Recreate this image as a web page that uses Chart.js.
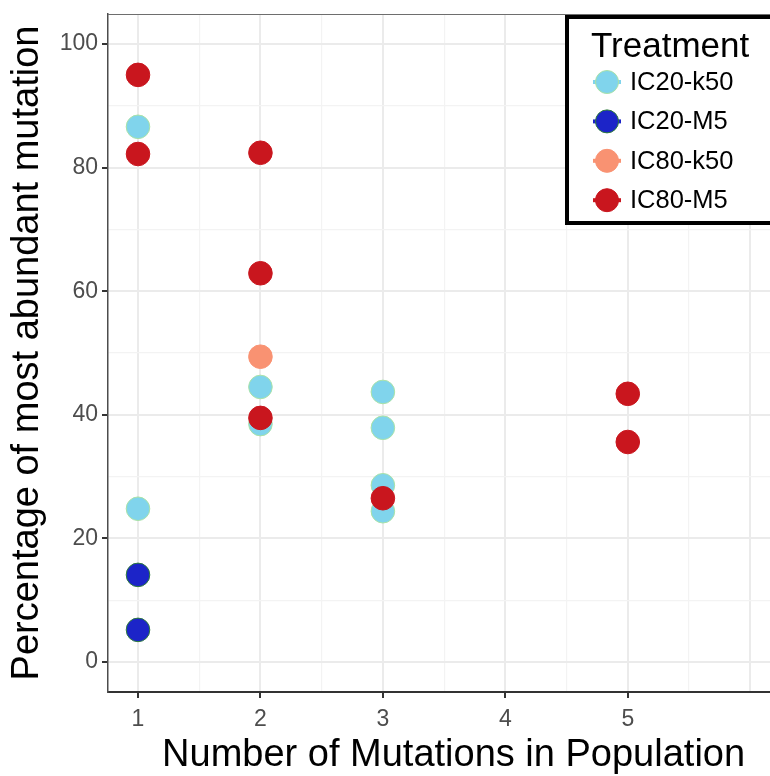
<!DOCTYPE html>
<html><head><meta charset="utf-8">
<script src="https://cdn.jsdelivr.net/npm/chart.js@4.4.0/dist/chart.umd.min.js"></script>
<style>
html,body{margin:0;padding:0;background:#fff;overflow:hidden;width:770px;height:776px}
#wrap{position:relative;width:812px;height:776px}
</style></head>
<body><div id="wrap"><canvas id="c" width="812" height="776"></canvas></div>
<script>
const seriesNames = ['IC20-k50', 'IC20-M5', 'IC80-k50', 'IC80-M5'];
const ic20k50X = [1, 1, 2, 2, 3, 3, 3, 3];
const ic20k50Y = [86.6, 24.8, 44.5, 38.5, 43.7, 37.9, 28.6, 24.4];
const ic20m5X = [1, 1];
const ic20m5Y = [14.1, 5.2];
const ic80k50X = [2];
const ic80k50Y = [49.4];
const ic80m5X = [1, 1, 2, 2, 2, 3, 5, 5];
const ic80m5Y = [95.0, 82.2, 82.4, 62.9, 39.5, 26.5, 43.4, 35.6];
const yTickValues = [0, 20, 40, 60, 80, 100];
const xTickLabels = [1, 2, 3, 4, 5];
const xGridValues = [1, 2, 3, 4, 5, 6];

const fills = ['#80D4EC', '#1C24C8', '#F99272', '#C9161E'];
const edges = ['#A9E2A6', '#2E7D3A', '#F99272', '#C9161E'];
const FONT = '"Liberation Sans", Arial, sans-serif';

function pts(xs, ys) { return xs.map((x, i) => ({x: x, y: ys[i]})); }
const seriesData = [pts(ic20k50X, ic20k50Y), pts(ic20m5X, ic20m5Y), pts(ic80k50X, ic80k50Y), pts(ic80m5X, ic80m5Y)];

function withMinor(major) {
  const out = [];
  for (let i = 0; i < major.length; i++) {
    out.push(major[i]);
    if (i < major.length - 1) out.push((major[i] + major[i + 1]) / 2);
  }
  return out;
}
const isMajor = (v, arr) => arr.some(a => Math.abs(a - v) < 1e-9);

const frame = {
  id: 'frame',
  afterDraw(chart) {
    const {ctx, chartArea: a} = chart;
    ctx.save();
    ctx.strokeStyle = '#6e6e6e';
    ctx.lineWidth = 1.2;
    ctx.beginPath(); ctx.moveTo(a.left, a.top + 0.5); ctx.lineTo(a.right, a.top + 0.5); ctx.stroke();
    // legend
    const lx = 567, ly = 17, lw = 240, lh = 206;
    ctx.fillStyle = '#fff'; ctx.fillRect(lx, ly, lw, lh);
    ctx.lineWidth = 4; ctx.strokeStyle = '#000'; ctx.strokeRect(lx, ly, lw, lh);
    ctx.fillStyle = '#000'; ctx.font = '35px ' + FONT; ctx.textBaseline = 'alphabetic';
    ctx.fillText('Treatment', 591, 57);
    ctx.font = '25.5px ' + FONT; ctx.textBaseline = 'middle';
    chart.data.datasets.forEach((ds, i) => {
      const cy = 82 + i * 39.4, cx = 607;
      ctx.strokeStyle = ds.backgroundColor; ctx.lineWidth = 4;
      ctx.beginPath(); ctx.moveTo(cx - 14, cy); ctx.lineTo(cx + 14, cy); ctx.stroke();
      ctx.beginPath(); ctx.arc(cx, cy, 11.5, 0, Math.PI * 2);
      ctx.fillStyle = ds.backgroundColor; ctx.fill();
      ctx.lineWidth = 1; ctx.strokeStyle = ds.borderColor; ctx.stroke();
      ctx.fillStyle = '#000';
      ctx.fillText(ds.label, 630, cy + 1);
    });
    ctx.restore();
  }
};

new Chart(document.getElementById('c'), {
  type: 'scatter',
  data: {
    datasets: seriesNames.map((name, i) => ({
      label: name,
      data: seriesData[i],
      backgroundColor: fills[i],
      borderColor: edges[i],
      borderWidth: 1,
      pointRadius: 11.8,
      order: 3 - i
    }))
  },
  options: {
    responsive: false,
    animation: false,
    layout: {padding: {top: 14, right: 0, left: 0, bottom: 0}},
    plugins: {legend: {display: false}, tooltip: {enabled: false}},
    scales: {
      x: {
        type: 'linear', min: 0.755, max: 6.40,
        afterBuildTicks: s => { s.ticks = withMinor(xGridValues).map(v => ({value: v})); },
        afterFit: s => { s.height = 84; },
        border: {color: '#333', width: 2},
        grid: {
          color: c => isMajor(c.tick.value, xGridValues) ? '#ebebeb' : '#f3f3f3',
          lineWidth: c => isMajor(c.tick.value, xGridValues) ? 2 : 1.2,
          tickColor: c => isMajor(c.tick.value, xTickLabels) ? '#333' : 'rgba(0,0,0,0)',
          tickLength: 6, drawTicks: true
        },
        ticks: {
          autoSkip: false, maxRotation: 0, padding: 8,
          color: '#4d4d4d', font: {family: FONT, size: 23},
          callback: v => isMajor(v, xTickLabels) ? String(v) : ''
        },
        title: {display: true, text: 'Number of Mutations in Population', color: '#000',
          font: {family: FONT, size: 38, lineHeight: 1.1}, padding: {top: 0, bottom: 0}}
      },
      y: {
        type: 'linear', min: -4.85, max: 104.85,
        afterBuildTicks: s => { s.ticks = withMinor(yTickValues).map(v => ({value: v})); },
        afterFit: s => { s.width = 108; s.paddingTop = 0; s.paddingBottom = 0; },
        border: {color: '#4d4d4d', width: 1.5},
        grid: {
          color: c => isMajor(c.tick.value, yTickValues) ? '#ebebeb' : '#f3f3f3',
          lineWidth: c => isMajor(c.tick.value, yTickValues) ? 2 : 1.2,
          tickColor: c => isMajor(c.tick.value, yTickValues) ? '#333' : 'rgba(0,0,0,0)',
          tickLength: 6, drawTicks: true
        },
        ticks: {
          autoSkip: false, padding: 4,
          color: '#4d4d4d', font: {family: FONT, size: 23, lineHeight: 0.6},
          callback: v => isMajor(v, yTickValues) ? String(v) : ''
        },
        title: {display: true, text: 'Percentage of most abundant mutation', color: '#000',
          font: {family: FONT, size: 38, lineHeight: 1.1}, padding: {top: 7, bottom: 0}}
      }
    }
  },
  plugins: [frame]
});
</script>
</body></html>
